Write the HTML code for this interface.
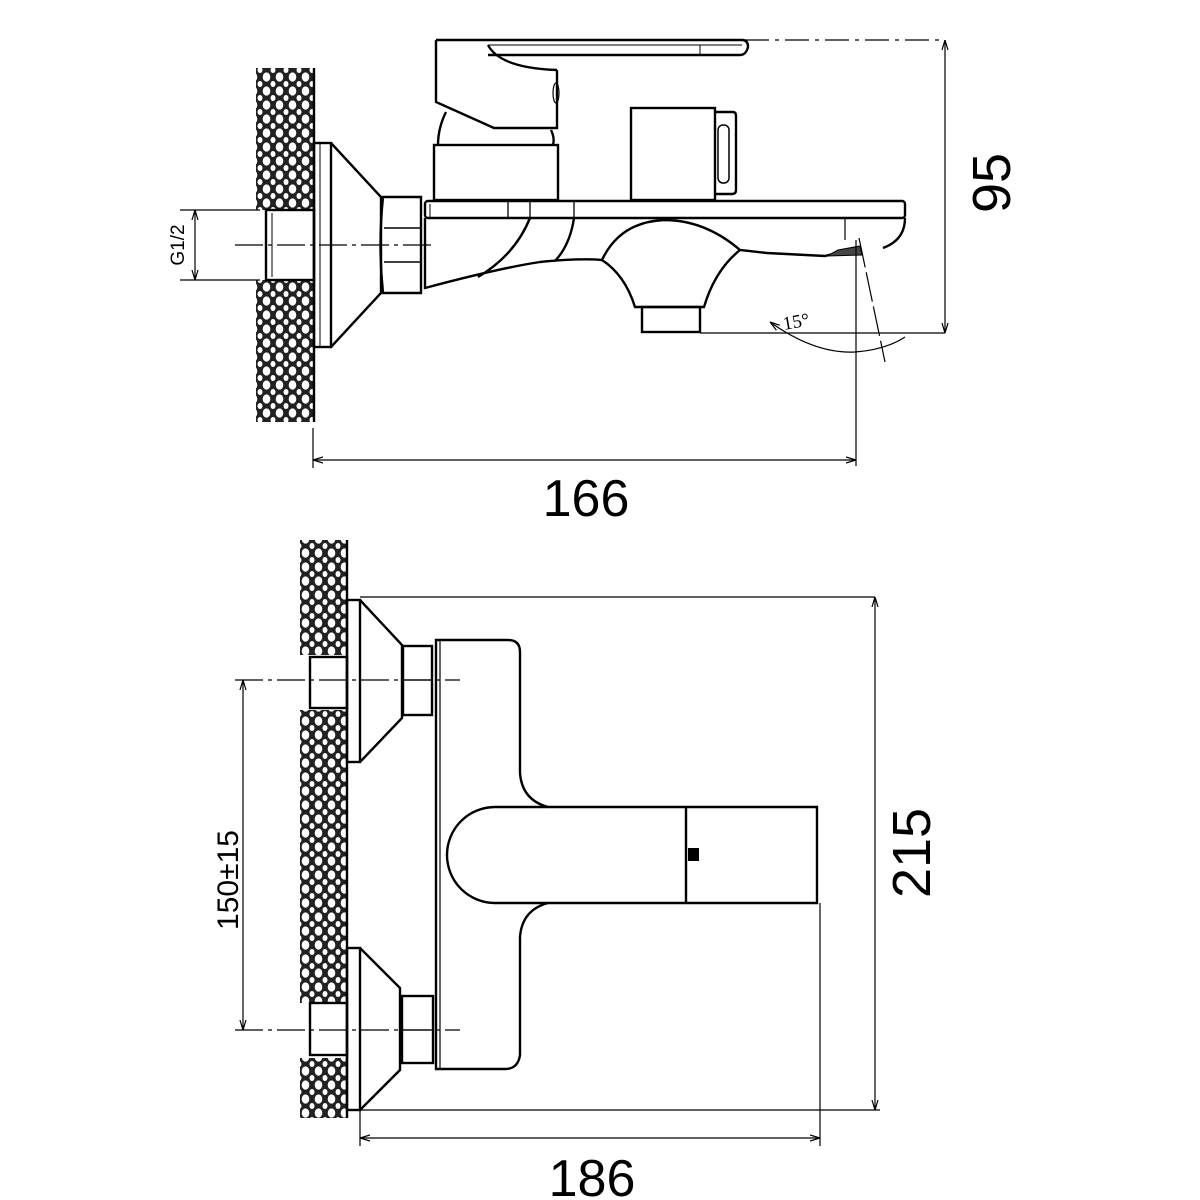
<!DOCTYPE html>
<html><head><meta charset="utf-8"><style>html,body{margin:0;padding:0;background:#fff}svg{display:block}</style></head>
<body>
<svg width="1200" height="1200" viewBox="0 0 1200 1200" xmlns="http://www.w3.org/2000/svg">
<defs>
<pattern id="h" width="13" height="14" patternUnits="userSpaceOnUse">
<rect width="13" height="14" fill="#222"/>
<ellipse cx="6.5" cy="7" rx="3.8" ry="4.6" fill="#fff"/>
<ellipse cx="0" cy="0" rx="2.5" ry="3" fill="#fff"/>
<ellipse cx="13" cy="0" rx="2.5" ry="3" fill="#fff"/>
<ellipse cx="0" cy="14" rx="2.5" ry="3" fill="#fff"/>
<ellipse cx="13" cy="14" rx="2.5" ry="3" fill="#fff"/>
</pattern>
<marker id="a" viewBox="0 0 10 10" refX="10" refY="5" markerWidth="10" markerHeight="10" orient="auto-start-reverse" markerUnits="userSpaceOnUse"><path d="M0,2 L10,5 L0,8" fill="none" stroke="#000" stroke-width="1.2"/></marker>
</defs>
<g fill="none" stroke="#000" stroke-width="2.4">
<rect x="256" y="68" width="58" height="142" fill="url(#h)" stroke="none"/>
<rect x="256" y="280" width="58" height="142" fill="url(#h)" stroke="none"/>
<line x1="314" y1="68" x2="314" y2="422"/>
<rect x="266" y="210" width="48" height="70"/>
<line x1="272" y1="213" x2="272" y2="277" stroke-width="1"/>
<line x1="235" y1="245" x2="435" y2="245" stroke-width="1.2" stroke-dasharray="28,5,4,5"/>
<rect x="314" y="143" width="17" height="204"/>
<line x1="320" y1="143" x2="320" y2="347" stroke-width="1"/>
<path d="M331,143 L381,197 L381,293 L331,347"/>
<path d="M383,197 L421,197 L421,293 L383,293 Q378,245 383,197Z"/>
<line x1="384" y1="228" x2="420" y2="228" stroke-width="1.5"/>
<line x1="384" y1="262" x2="420" y2="262" stroke-width="1.5"/>
<rect x="425" y="201" width="480" height="17" rx="3"/>
<line x1="430" y1="204" x2="430" y2="218" stroke-width="1"/>
<line x1="508" y1="201" x2="508" y2="218" stroke-width="1.3"/>
<line x1="530" y1="201" x2="530" y2="218" stroke-width="1.3"/>
<line x1="574" y1="201" x2="574" y2="218" stroke-width="1.3"/>
<path d="M425,218 L425,288 Q500,268 540,262 Q580,258 602,260"/>
<path d="M530,218 Q515,255 478,277"/>
<path d="M574,218 Q570,245 555,261"/>
<path d="M602,260 Q620,222 664,220 Q705,220 740,250 L767,253 L825,256 L860,247"/>
<path d="M602,260 Q625,275 635,307 L704,307 Q715,270 740,250"/>
<rect x="642" y="307" width="58" height="25"/>
<path d="M905,218 Q905,240 883,248"/>
<path d="M827,256 L838,250 L860,246 L862,255 Z" fill="#444" stroke-width="1"/>
<line x1="845" y1="218" x2="845" y2="240" stroke-width="1.2"/>
<path d="M436,40 L742,40 Q748,40 748,47 Q746,55 740,55 L488,55"/>
<line x1="488" y1="45" x2="742" y2="45" stroke-width="1"/>
<line x1="700" y1="45" x2="700" y2="55" stroke-width="1"/>
<path d="M436,40 L436,102 L494,128 L557,128 L557,70"/>
<path d="M488,45 Q500,68 557,70"/>
<ellipse cx="556" cy="93" rx="3" ry="10" stroke-width="1.2"/>
<path d="M446,112 Q438,128 438,145"/>
<path d="M551,130 Q555,138 553,145"/>
<rect x="434" y="145" width="124" height="55"/>
<rect x="631" y="108" width="84" height="92"/>
<path d="M715,112 L733,112 Q736,112 736,116 L736,190 Q736,194 732,194 L715,194"/>
<rect x="718" y="125" width="11" height="58" rx="5" stroke-width="1.5"/>
<line x1="745" y1="40" x2="945" y2="40" stroke-width="1.2" stroke-dasharray="24,6,4,6"/>
<line x1="700" y1="333" x2="945" y2="333" stroke-width="1.2"/>
<line x1="945" y1="40" x2="945" y2="333" stroke-width="1.2" marker-start="url(#a)" marker-end="url(#a)"/>
<line x1="856" y1="240" x2="856" y2="466" stroke-width="1.2"/>
<line x1="859" y1="238" x2="885" y2="362" stroke-width="1.2" stroke-dasharray="30,5"/>
<path d="M770,322 Q815,354 855,352 Q885,350 905,337" stroke-width="1.2" marker-start="url(#a)"/>
<line x1="313" y1="428" x2="313" y2="468" stroke-width="1.2"/>
<line x1="313" y1="460" x2="856" y2="460" stroke-width="1.2" marker-start="url(#a)" marker-end="url(#a)"/>
<line x1="180" y1="210" x2="260" y2="210" stroke-width="1.2"/>
<line x1="180" y1="280" x2="260" y2="280" stroke-width="1.2"/>
<line x1="195" y1="210" x2="195" y2="280" stroke-width="1.2" marker-start="url(#a)" marker-end="url(#a)"/>

<rect x="300" y="540" width="47" height="115" fill="url(#h)" stroke="none"/>
<rect x="300" y="710" width="47" height="293" fill="url(#h)" stroke="none"/>
<rect x="300" y="1058" width="47" height="60" fill="url(#h)" stroke="none"/>
<line x1="347" y1="540" x2="347" y2="1118"/>
<rect x="310" y="657" width="37" height="51"/>
<rect x="310" y="1003" width="37" height="52"/>
<rect x="347" y="600" width="13" height="162"/>
<path d="M360,600 L402,645 L402,718 L360,762"/>
<rect x="347" y="948" width="13" height="162"/>
<path d="M360,948 L400,988 L400,1070 L360,1110"/>
<rect x="403" y="646" width="29" height="69"/>
<line x1="403" y1="680" x2="432" y2="680" stroke-width="1.3"/>
<rect x="402" y="996" width="31" height="67"/>
<line x1="402" y1="1030" x2="433" y2="1030" stroke-width="1.3"/>
<line x1="235" y1="680" x2="460" y2="680" stroke-width="1.2" stroke-dasharray="28,5,4,5"/>
<line x1="235" y1="1030" x2="460" y2="1030" stroke-width="1.2" stroke-dasharray="28,5,4,5"/>
<path d="M436,640 L508,640 Q520,640 520,652 L520,773 Q522,800 548,807 L817,807 L817,903 L548,903 Q522,910 520,937 L520,1055 Q518,1069 505,1069 L436,1069 Z"/>
<line x1="440" y1="640" x2="440" y2="1069" stroke-width="1.2"/>
<path d="M548,807 L495,807 A48,48 0 0 0 495,903 L548,903"/>
<line x1="686" y1="807" x2="686" y2="903"/>
<rect x="688" y="848" width="11" height="13" fill="#000" stroke="none"/>
<line x1="360" y1="597" x2="875" y2="597" stroke-width="1.3"/>
<line x1="360" y1="1110" x2="880" y2="1110" stroke-width="1.3"/>
<line x1="875" y1="597" x2="875" y2="1110" stroke-width="1.2" marker-start="url(#a)" marker-end="url(#a)"/>
<line x1="820" y1="903" x2="820" y2="1146" stroke-width="1.2"/>
<line x1="360" y1="1110" x2="360" y2="1146" stroke-width="1.2"/>
<line x1="360" y1="1138" x2="820" y2="1138" stroke-width="1.2" marker-start="url(#a)" marker-end="url(#a)"/>
<line x1="243" y1="680" x2="243" y2="1030" stroke-width="1.2" marker-start="url(#a)" marker-end="url(#a)"/>
</g>
<g font-family="Liberation Sans, sans-serif" fill="#000">
<text x="586" y="516" font-size="52" text-anchor="middle">166</text>
<text transform="translate(1010,183) rotate(-90)" font-size="54" text-anchor="middle">95</text>
<text transform="translate(930,853) rotate(-90)" font-size="54" text-anchor="middle">215</text>
<text x="592" y="1196" font-size="52" text-anchor="middle">186</text>
<text transform="translate(238,880) rotate(-90)" font-size="30" text-anchor="middle">150±15</text>
<text transform="translate(184,245) rotate(-90)" font-size="19" text-anchor="middle">G1/2</text>
<text transform="translate(784,330) rotate(-10)" font-size="19" font-family="Liberation Serif, serif">15°</text>
</g>
</svg>
</body></html>
